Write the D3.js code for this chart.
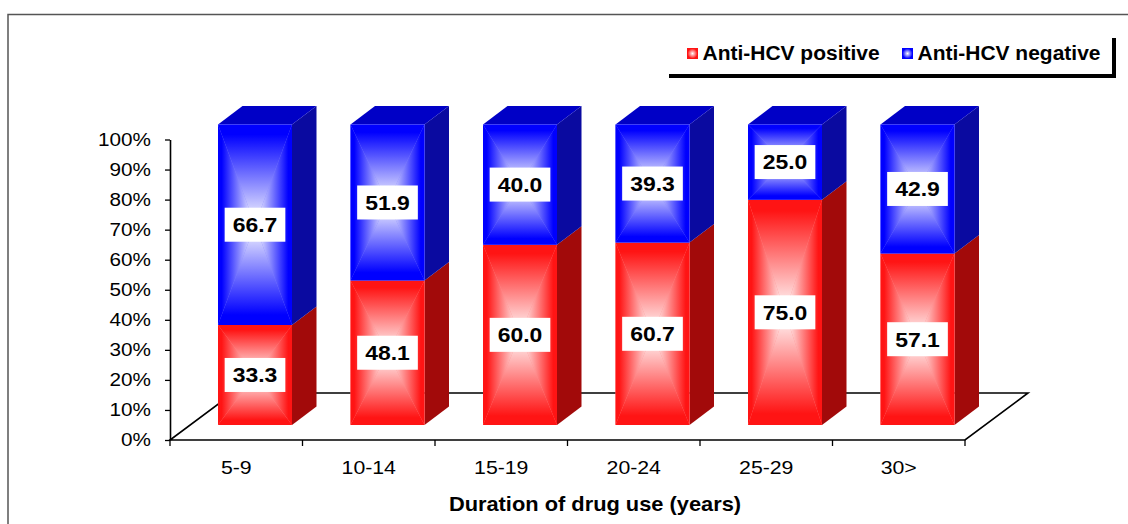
<!DOCTYPE html>
<html>
<head>
<meta charset="utf-8">
<script src="https://cdn.jsdelivr.net/npm/d3@7"></script>
<style>
  body { margin: 0; background: #fff; }
  svg { display: block; font-family: "Liberation Sans", Arial, sans-serif; }
</style>
</head>
<body>
<div id="chart"></div>
<script>
// data
let categories = ["5-9", "10-14", "15-19", "20-24", "25-29", "30>"];
let positive = [33.3, 48.1, 60.0, 60.7, 75.0, 57.1];
let negative = [66.7, 51.9, 40.0, 39.3, 25.0, 42.9];
let seriesNames = ["Anti-HCV positive", "Anti-HCV negative"];
let yTicks = [0, 10, 20, 30, 40, 50, 60, 70, 80, 90, 100];
let xTitle = "Duration of drug use (years)";

let width = 1128, height = 524;
let SX = 1.12; // the original text is a bit stretched sideways

let svg = d3.select("#chart").append("svg")
  .attr("width", width).attr("height", height);

// outer frame
svg.append("rect")
  .attr("x", 8).attr("y", 14.5)
  .attr("width", 1130).attr("height", 520)
  .attr("fill", "#fff").attr("stroke", "#555").attr("stroke-width", 1.5);

let xScale = d3.scaleBand().domain(categories).range([170, 965]);
let yScale = d3.scaleLinear().domain([0, 100]).range([440, 139.5]);
let barScale = d3.scaleLinear().domain([0, 100]).range([425, 124.5]);

let floorDx = 63, floorDy = -47;
let depthDx = 24.5, depthDy = -18.5;
let barOff = 48, barW = 74;

let colors = {
  red:  { edge: "#ff1414", side: "#a20a0a", top: "#c80000" },
  blue: { edge: "#0000ff", side: "#0a0aa0", top: "#0000c6" }
};

// gradients for the "from centre" look of the front faces
let defs = svg.append("defs");
let dirs = {
  t: [0, 0, 0, 1], b: [0, 1, 0, 0], l: [0, 0, 1, 0], r: [1, 0, 0, 0]
};
Object.keys(colors).forEach(function(c) {
  Object.keys(dirs).forEach(function(k) {
    let d = dirs[k];
    let g = defs.append("linearGradient")
      .attr("id", "g-" + c + "-" + k)
      .attr("x1", d[0]).attr("y1", d[1]).attr("x2", d[2]).attr("y2", d[3]);
    g.append("stop").attr("offset", 0).attr("stop-color", colors[c].edge);
    g.append("stop").attr("offset", 0.1).attr("stop-color", colors[c].edge);
    g.append("stop").attr("offset", 1).attr("stop-color", "#fff");
  });
  let rg = defs.append("radialGradient").attr("id", "sw-" + c);
  rg.append("stop").attr("offset", 0).attr("stop-color", "#fff");
  rg.append("stop").attr("offset", 1).attr("stop-color", colors[c].edge);
});

// floor
let x0 = xScale.range()[0], x1 = xScale.range()[1];
svg.append("polygon")
  .attr("points", [[x0, yScale(0)], [x1, yScale(0)],
                   [x1 + floorDx, yScale(0) + floorDy], [x0 + floorDx, yScale(0) + floorDy]].join(" "))
  .attr("fill", "#fff").attr("stroke", "#000").attr("stroke-width", 1.6);

// bars
function frontFace(g, fx0, fx1, yT, yB, c) {
  let cx = (fx0 + fx1) / 2, cy = (yT + yB) / 2;
  g.append("rect").attr("x", fx0).attr("y", yT)
    .attr("width", fx1 - fx0).attr("height", yB - yT)
    .attr("fill", d3.interpolateRgb(colors[c].edge, "#fff")(0.5));
  let tris = {
    t: [[fx0, yT], [fx1, yT], [cx, cy]],
    b: [[fx0, yB], [fx1, yB], [cx, cy]],
    l: [[fx0, yT], [fx0, yB], [cx, cy]],
    r: [[fx1, yT], [fx1, yB], [cx, cy]]
  };
  Object.keys(tris).forEach(function(k) {
    g.append("polygon").attr("points", tris[k].join(" "))
      .attr("fill", "url(#g-" + c + "-" + k + ")");
  });
}

function segment(g, fx0, yT, yB, c, withTop) {
  let fx1 = fx0 + barW;
  g.append("polygon")
    .attr("points", [[fx1, yT], [fx1 + depthDx, yT + depthDy],
                     [fx1 + depthDx, yB + depthDy], [fx1, yB]].join(" "))
    .attr("fill", colors[c].side);
  if (withTop) {
    g.append("polygon")
      .attr("points", [[fx0, yT], [fx0 + depthDx, yT + depthDy],
                       [fx1 + depthDx, yT + depthDy], [fx1, yT]].join(" "))
      .attr("fill", colors[c].top);
  }
  frontFace(g, fx0, fx1, yT, yB, c);
}

function boxLabel(g, cx, cy, txt) {
  let lg = g.append("g");
  let r = lg.append("rect").attr("fill", "#fff");
  let t = lg.append("text")
    .attr("transform", "translate(" + cx + "," + (cy + 7.4) + ") scale(" + SX + ",1)")
    .attr("text-anchor", "middle")
    .attr("font-size", 20.5).attr("font-weight", "bold")
    .text(txt);
  let w = t.node().getBBox().width * SX + 16;
  r.attr("x", cx - w / 2).attr("y", cy - 17).attr("width", w).attr("height", 34);
}

let bars = svg.append("g");
categories.forEach(function(cat, i) {
  let g = bars.append("g");
  let fx0 = xScale(cat) + barOff;
  segment(g, fx0, barScale(positive[i]), barScale(0), "red", false);
  segment(g, fx0, barScale(100), barScale(positive[i]), "blue", true);
  boxLabel(g, fx0 + barW / 2, (barScale(0) + barScale(positive[i])) / 2, positive[i].toFixed(1));
  boxLabel(g, fx0 + barW / 2, (barScale(positive[i]) + barScale(100)) / 2, negative[i].toFixed(1));
});

// y axis
let yAxis = svg.append("g")
  .attr("transform", "translate(" + x0 + ",0)")
  .call(d3.axisLeft(yScale).tickValues(yTicks).tickFormat(d => d + "%")
        .tickSize(5).tickSizeOuter(0).tickPadding(12));
yAxis.select(".domain").attr("stroke", "#000").attr("stroke-width", 1.6);
yAxis.selectAll(".tick line").attr("stroke", "#000").attr("stroke-width", 1.3);
yAxis.selectAll(".tick text")
  .attr("font-family", "Liberation Sans, Arial, sans-serif")
  .attr("font-size", 18.5).attr("fill", "#000")
  .attr("transform", "scale(" + SX + ",1)");

// x axis: boundaries get tick marks, centres get labels
let bounds = categories.map(c => xScale(c)).concat([x1]);
let xAxis = svg.append("g").attr("transform", "translate(0," + yScale(0) + ")");
xAxis.selectAll("line.tk").data(bounds).enter().append("line")
  .attr("x1", d => d).attr("x2", d => d).attr("y1", 0).attr("y2", 6)
  .attr("stroke", "#000").attr("stroke-width", 1.3);
xAxis.selectAll("text").data(categories).enter().append("text")
  .attr("transform", d => "translate(" + (xScale(d) + xScale.bandwidth() / 2) + ",33.5) scale(" + SX + ",1)")
  .attr("text-anchor", "middle").attr("font-size", 19)
  .text(d => d);

svg.append("text")
  .attr("transform", "translate(595,510.5) scale(" + SX + ",1)")
  .attr("text-anchor", "middle").attr("font-size", 19.5).attr("font-weight", "bold")
  .text(xTitle);

// legend
let leg = svg.append("g");
leg.append("rect").attr("x", 669).attr("y", 38).attr("width", 447).attr("height", 40).attr("fill", "#000");
leg.append("rect").attr("x", 665).attr("y", 34).attr("width", 447).attr("height", 40).attr("fill", "#fff");
let legX = [687, 902];
seriesNames.forEach(function(name, i) {
  let c = i === 0 ? "red" : "blue";
  leg.append("rect").attr("x", legX[i] + 0.5).attr("y", 48.5).attr("width", 10).attr("height", 10)
    .attr("fill", "url(#sw-" + c + ")").attr("stroke", colors[c].edge).attr("stroke-width", 1);
  leg.append("text")
    .attr("transform", "translate(" + (legX[i] + 15.5) + ",60) scale(1.06,1)")
    .attr("font-size", 19.8).attr("font-weight", "bold")
    .text(name);
});
</script>
</body>
</html>
